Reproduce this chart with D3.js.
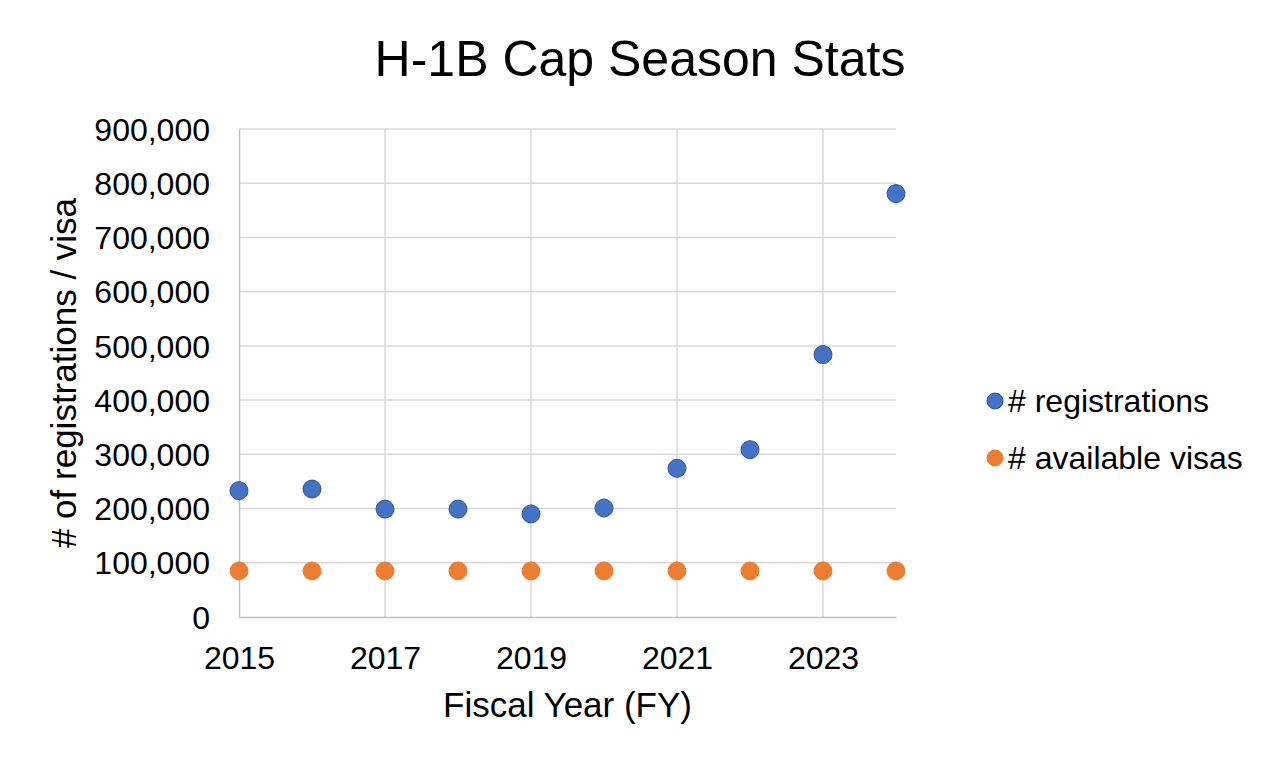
<!DOCTYPE html>
<html><head><meta charset="utf-8">
<script src="https://cdn.jsdelivr.net/npm/d3@7"></script>
<style>body{margin:0;background:#fff}svg{display:block}text{font-family:"Liberation Sans",Arial,sans-serif;fill:#000}</style>
</head><body><svg id="c" width="1280" height="768"></svg>
<script>
const years = [2015,2016,2017,2018,2019,2020,2021,2022,2023,2024];
const registrations = [233000,236000,199000,199000,190098,201011,274237,308613,483927,780884];
const availableVisas = [85000,85000,85000,85000,85000,85000,85000,85000,85000,85000];
const yTicks = [0,100000,200000,300000,400000,500000,600000,700000,800000,900000];
const xTicks = [2015,2017,2019,2021,2023];
const seriesNames = ["# registrations","# available visas"];
const colors = ["#4472C4","#ED7D31"];
const strokes = ["#2F5597","#ED7D31"];

const svg = d3.select("#c");
const m = {l:239,r:896,t:129,b:617};
const x = d3.scaleLinear().domain([2015,2024]).range([m.l,m.r]);
const y = d3.scaleLinear().domain([0,900000]).range([m.b,m.t]);

// grid
svg.append("g").selectAll("line").data(yTicks.slice(1)).join("line")
 .attr("x1",m.l).attr("x2",m.r).attr("y1",d=>y(d)).attr("y2",d=>y(d))
 .attr("stroke","#d9d9d9").attr("stroke-width",1.5);
svg.append("g").selectAll("line").data(xTicks.slice(1)).join("line")
 .attr("x1",d=>x(d)).attr("x2",d=>x(d)).attr("y1",m.t).attr("y2",m.b)
 .attr("stroke","#d9d9d9").attr("stroke-width",1.5);

// axes
const yAxis = svg.append("g").attr("transform",`translate(${m.l},0)`)
 .call(d3.axisLeft(y).tickValues(yTicks).tickFormat(d3.format(",")).tickSize(0).tickPadding(29));
yAxis.select(".domain").attr("stroke","#bfbfbf").attr("stroke-width",1.5);
yAxis.selectAll("text").style("font-size","32px").attr("dy","0.35em");
const xAxis = svg.append("g").attr("transform",`translate(0,${m.b})`)
 .call(d3.axisBottom(x).tickValues(xTicks).tickFormat(d3.format("d")).tickSize(0).tickPadding(29));
xAxis.select(".domain").attr("stroke","#bfbfbf").attr("stroke-width",1.5);
xAxis.selectAll("text").style("font-size","32px");

// points
const series = [registrations, availableVisas];
series.forEach((vals,i)=>{
 svg.append("g").selectAll("circle").data(years.map((yr,j)=>[yr,vals[j]])).join("circle")
  .attr("cx",d=>x(d[0])).attr("cy",d=>y(d[1])).attr("r",9)
  .attr("fill",colors[i]).attr("stroke",strokes[i]).attr("stroke-width",1);
});

// titles
svg.append("text").attr("x",640).attr("y",76).attr("text-anchor","middle").style("font-size","50px").text("H-1B Cap Season Stats");
svg.append("text").attr("x",(m.l+m.r)/2).attr("y",717).attr("text-anchor","middle").style("font-size","35px").text("Fiscal Year (FY)");
svg.append("text").attr("transform",`translate(76,${(m.t+m.b)/2}) rotate(-90)`).attr("text-anchor","middle").style("font-size","35px").text("# of registrations / visa");

// legend
const lg = svg.append("g");
seriesNames.forEach((n,i)=>{
 const ly = 401 + i*57;
 lg.append("circle").attr("cx",995).attr("cy",ly).attr("r",8).attr("fill",colors[i]).attr("stroke",strokes[i]);
 lg.append("text").attr("x",1008).attr("y",ly).attr("dy","0.35em").style("font-size","32px").text(n);
});
</script></body></html>
